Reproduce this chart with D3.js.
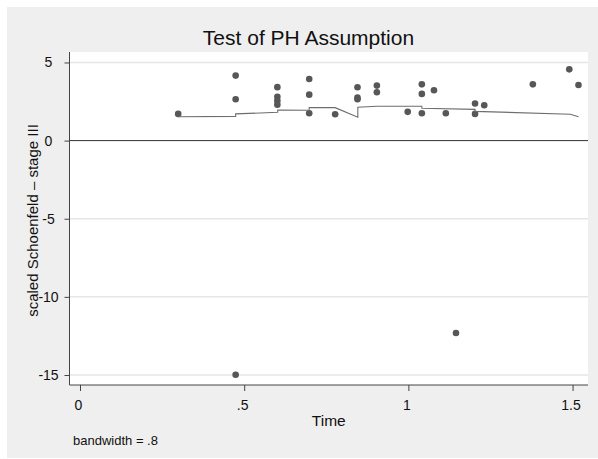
<!DOCTYPE html>
<html>
<head>
<meta charset="utf-8">
<script src="https://cdnjs.cloudflare.com/ajax/libs/d3/7.8.5/d3.min.js"></script>
<style>
    body { margin: 0; background: #fff; }
    text { font-family: "Liberation Sans", Arial, sans-serif; fill: #111; }
    .axis path, .axis line { stroke: #444; }
</style>
</head>
<body>
<div id="chart"></div>
<script>
// scaled Schoenfeld residuals
var residTime = [0.299, 0.474, 0.474, 0.474, 0.601, 0.601, 0.601, 0.601, 0.698, 0.698,
    0.698, 0.777, 0.845, 0.845, 0.845, 0.904, 0.904, 0.998, 1.041, 1.041,
    1.041, 1.078, 1.114, 1.145, 1.203, 1.203, 1.231, 1.379, 1.490, 1.518];
var residValue = [1.71, 4.16, 2.65, -14.98, 3.42, 2.80, 2.55, 2.30, 3.94, 2.94,
    1.75, 1.69, 3.41, 2.75, 2.65, 3.52, 3.09, 1.84, 3.60, 2.99,
    1.75, 3.22, 1.75, -12.31, 2.37, 1.71, 2.26, 3.60, 4.56, 3.56];

// lowess smooth
var smoothTime = [0.299, 0.474, 0.474, 0.602, 0.602, 0.698, 0.698, 0.777, 0.846, 0.846,
    0.904, 1.041, 1.041, 1.203, 1.203, 1.493, 1.518];
var smoothValue = [1.53, 1.55, 1.71, 1.81, 1.96, 1.94, 2.11, 2.11, 1.50, 2.13,
    2.20, 2.20, 2.07, 2.00, 1.87, 1.69, 1.53];

var yTicks = [-15, -10, -5, 0, 5];
var yTickLabels = ["-15", "-10", "-5", "0", "5"];
var xTicks = [0, 0.5, 1, 1.5];
var xTickLabels = ["0", ".5", "1", "1.5"];

makePlot();

function makePlot() {
    var svgWidth = 598;
    var svgHeight = 459;

    var plot = { left: 69.5, right: 588, top: 52, bottom: 385 };

    var svg = d3.select("#chart")
        .append("svg")
        .attr("width", svgWidth)
        .attr("height", svgHeight);

    // graph region + plot region
    svg.append("rect")
        .attr("x", 7).attr("y", 7)
        .attr("width", svgWidth - 7).attr("height", 451)
        .attr("fill", "#efefef");

    svg.append("rect")
        .attr("x", plot.left).attr("y", plot.top)
        .attr("width", plot.right - plot.left)
        .attr("height", plot.bottom - plot.top)
        .attr("fill", "#fff");

    var xScale = d3.scaleLinear()
        .domain([-0.032, 1.547])
        .range([plot.left, plot.right]);

    var yScale = d3.scaleLinear()
        .domain([-15.64, 5.67])
        .range([plot.bottom, plot.top]);

    // gridlines
    svg.append("g")
        .selectAll("line")
        .data(yTicks.filter(d => d !== 0))
        .enter()
        .append("line")
        .attr("x1", plot.left)
        .attr("x2", plot.right)
        .attr("y1", d => yScale(d))
        .attr("y2", d => yScale(d))
        .attr("stroke", "#e6e6e6")
        .attr("stroke-width", 1.5);

    // reference line at 0
    svg.append("line")
        .attr("x1", plot.left)
        .attr("x2", plot.right)
        .attr("y1", yScale(0))
        .attr("y2", yScale(0))
        .attr("stroke", "#333")
        .attr("stroke-width", 1);

    // points
    svg.append("g")
        .selectAll("circle")
        .data(residTime)
        .enter()
        .append("circle")
        .attr("cx", d => xScale(d))
        .attr("cy", (d, i) => yScale(residValue[i]))
        .attr("r", 3.3)
        .attr("fill", "#575757");

    // smooth line
    var line = d3.line()
        .x(d => xScale(d))
        .y((d, i) => yScale(smoothValue[i]));

    svg.append("path")
        .datum(smoothTime)
        .attr("d", line)
        .attr("fill", "none")
        .attr("stroke", "#6e6e6e")
        .attr("stroke-width", 1.1);

    // axes
    var leftAxis = d3.axisLeft(yScale)
        .tickValues(yTicks)
        .tickSize(5)
        .tickSizeOuter(0)
        .tickPadding(0)
        .tickFormat((d, i) => yTickLabels[i]);

    var bottomAxis = d3.axisBottom(xScale)
        .tickValues(xTicks)
        .tickSize(6)
        .tickSizeOuter(0)
        .tickFormat((d, i) => xTickLabels[i]);

    var yAxisG = svg.append("g")
        .attr("class", "axis")
        .attr("transform", `translate(${plot.left}, 0)`)
        .call(leftAxis);
    yAxisG.select(".domain").attr("d", `M0,${plot.top}V${plot.bottom}`);
    yAxisG.selectAll(".tick text")
        .attr("x", -21)
        .attr("text-anchor", "middle")
        .attr("font-size", 14)
        .attr("font-family", "Liberation Sans, Arial, sans-serif");

    var xAxisG = svg.append("g")
        .attr("class", "axis")
        .attr("transform", `translate(0, ${plot.bottom})`)
        .call(bottomAxis);
    xAxisG.select(".domain").attr("d", `M${plot.left},0H${plot.right}`);
    xAxisG.selectAll(".tick text")
        .attr("y", 15)
        .attr("dx", "-2")
        .attr("font-size", 14)
        .attr("font-family", "Liberation Sans, Arial, sans-serif");

    // titles
    svg.append("text")
        .attr("x", 308.5)
        .attr("y", 45)
        .attr("text-anchor", "middle")
        .attr("font-size", 21)
        .text("Test of PH Assumption");

    svg.append("text")
        .attr("x", (plot.left + plot.right) / 2)
        .attr("y", 426)
        .attr("text-anchor", "middle")
        .attr("font-size", 15.5)
        .text("Time");

    svg.append("text")
        .attr("transform", "rotate(-90)")
        .attr("x", -220.5)
        .attr("y", 38)
        .attr("text-anchor", "middle")
        .attr("font-size", 15)
        .text("scaled Schoenfeld \u2013 stage III");

    svg.append("text")
        .attr("x", 73)
        .attr("y", 445)
        .attr("font-size", 13)
        .text("bandwidth = .8");
}
</script>
</body>
</html>
